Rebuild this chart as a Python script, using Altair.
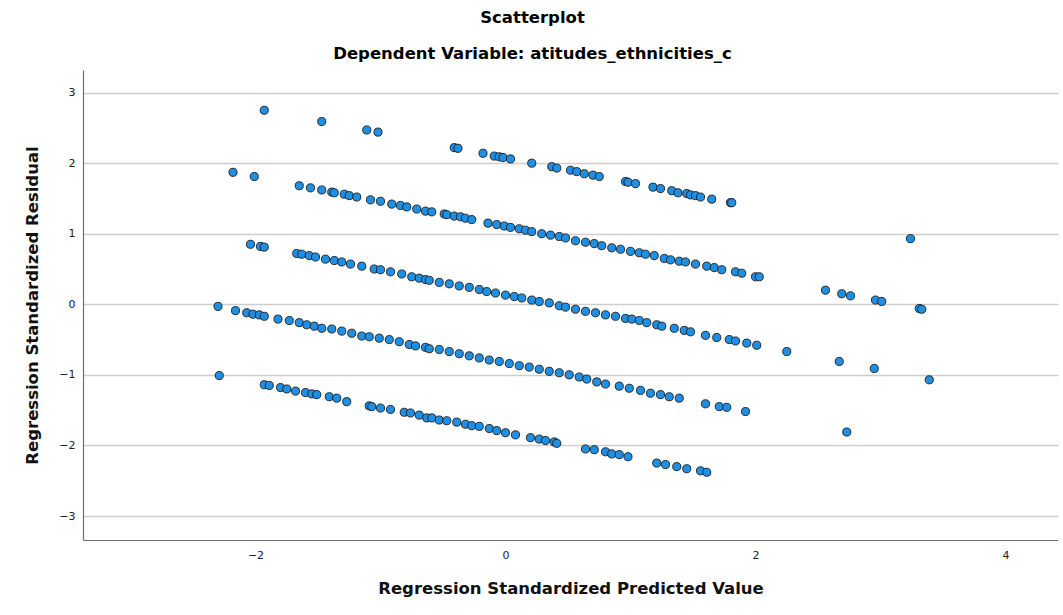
import altair as alt
import pandas as pd

# Values (predicted value, residual), grouped by the visible bands
band_a_x = [-1.93, -1.47, -1.11, -1.02, -0.41, -0.38, -0.18, -0.09, -0.05, -0.02, 0.04, 0.21, 0.37, 0.41,
            0.52, 0.57, 0.63, 0.70, 0.75, 0.96, 0.98, 1.04, 1.18, 1.24, 1.33, 1.38, 1.45, 1.48, 1.52, 1.56,
            1.65, 1.80, 1.81, 3.24]
band_a_y = [2.75, 2.59, 2.47, 2.44, 2.22, 2.21, 2.14, 2.10, 2.09, 2.08, 2.06, 2.00, 1.95, 1.93,
            1.90, 1.88, 1.85, 1.83, 1.81, 1.74, 1.73, 1.71, 1.66, 1.64, 1.61, 1.58, 1.57, 1.55, 1.54, 1.52,
            1.49, 1.44, 1.44, 0.93]

band_b_x = [-2.18, -2.01, -1.65, -1.56, -1.47, -1.39, -1.37, -1.29, -1.25, -1.19, -1.08, -1.00, -0.91, -0.84,
            -0.79, -0.71, -0.64, -0.59, -0.49, -0.47, -0.41, -0.36, -0.32, -0.27, -0.14, -0.07, -0.01, 0.04,
            0.11, 0.16, 0.21, 0.29, 0.36, 0.43, 0.48, 0.56, 0.64, 0.71, 0.77, 0.85, 0.92, 1.00, 1.07, 1.12,
            1.19, 1.27, 1.32, 1.39, 1.44, 1.52, 1.61, 1.67, 1.73, 1.84, 1.89, 2.00, 2.03,
            2.56, 2.69, 2.76, 2.96, 3.01, 3.31, 3.33]
band_b_y = [1.87, 1.81, 1.68, 1.65, 1.62, 1.59, 1.58, 1.56, 1.54, 1.52, 1.48, 1.46, 1.42, 1.40,
            1.38, 1.35, 1.32, 1.31, 1.28, 1.27, 1.25, 1.24, 1.22, 1.20, 1.15, 1.13, 1.11, 1.09,
            1.07, 1.05, 1.03, 1.00, 0.98, 0.96, 0.94, 0.90, 0.88, 0.86, 0.83, 0.80, 0.78, 0.75, 0.73, 0.71,
            0.69, 0.65, 0.63, 0.61, 0.60, 0.57, 0.54, 0.52, 0.49, 0.46, 0.44, 0.39, 0.39,
            0.20, 0.15, 0.12, 0.06, 0.04, -0.06, -0.07]

band_c_x = [-2.04, -1.96, -1.93, -1.67, -1.63, -1.57, -1.52, -1.44, -1.37, -1.31, -1.24, -1.15, -1.05, -1.00,
            -0.92, -0.83, -0.75, -0.69, -0.64, -0.61, -0.53, -0.45, -0.37, -0.29, -0.21, -0.15, -0.08, 0.00,
            0.07, 0.13, 0.21, 0.27, 0.35, 0.43, 0.48, 0.56, 0.64, 0.72, 0.80, 0.88, 0.96, 1.01, 1.07, 1.13,
            1.21, 1.25, 1.35, 1.43, 1.48, 1.60, 1.69, 1.79, 1.84, 1.93, 2.01,
            2.25, 2.67, 2.95, 3.39]
band_c_y = [0.85, 0.82, 0.81, 0.72, 0.71, 0.69, 0.67, 0.64, 0.62, 0.60, 0.57, 0.54, 0.50, 0.49,
            0.46, 0.43, 0.39, 0.37, 0.35, 0.34, 0.31, 0.29, 0.26, 0.24, 0.21, 0.18, 0.16, 0.13,
            0.11, 0.09, 0.06, 0.04, 0.02, -0.02, -0.04, -0.07, -0.10, -0.12, -0.15, -0.17, -0.20, -0.21, -0.23, -0.26,
            -0.29, -0.31, -0.34, -0.37, -0.39, -0.44, -0.47, -0.50, -0.52, -0.55, -0.58,
            -0.67, -0.81, -0.91, -1.07]

band_d_x = [-2.30, -2.16, -2.07, -2.02, -1.97, -1.93, -1.82, -1.73, -1.65, -1.59, -1.53, -1.47, -1.39, -1.31,
            -1.23, -1.15, -1.09, -1.01, -0.93, -0.85, -0.77, -0.72, -0.64, -0.61, -0.53, -0.45, -0.37, -0.29,
            -0.21, -0.13, -0.05, 0.03, 0.11, 0.19, 0.27, 0.35, 0.43, 0.51, 0.59, 0.65, 0.73, 0.80, 0.91, 0.99,
            1.08, 1.16, 1.24, 1.31, 1.39, 1.60, 1.71, 1.77, 1.92, 2.73]
band_d_y = [-0.03, -0.09, -0.12, -0.14, -0.15, -0.17, -0.21, -0.23, -0.26, -0.29, -0.31, -0.34, -0.35, -0.38,
            -0.41, -0.45, -0.46, -0.48, -0.50, -0.53, -0.57, -0.59, -0.61, -0.63, -0.64, -0.67, -0.70, -0.73,
            -0.76, -0.79, -0.81, -0.84, -0.87, -0.89, -0.92, -0.95, -0.97, -1.00, -1.03, -1.06, -1.10, -1.13, -1.16, -1.19,
            -1.22, -1.26, -1.28, -1.31, -1.33, -1.41, -1.45, -1.46, -1.52, -1.81]

band_e_x = [-2.29, -1.93, -1.89, -1.80, -1.75, -1.68, -1.60, -1.55, -1.51, -1.41, -1.35, -1.27, -1.09, -1.07,
            -1.00, -0.92, -0.81, -0.76, -0.69, -0.63, -0.59, -0.53, -0.47, -0.39, -0.32, -0.27, -0.21, -0.13,
            -0.07, 0.00, 0.08, 0.20, 0.27, 0.32, 0.39, 0.41, 0.64, 0.71, 0.80, 0.85, 0.91, 0.98,
            1.21, 1.28, 1.37, 1.45, 1.56, 1.61]
band_e_y = [-1.01, -1.14, -1.15, -1.18, -1.20, -1.23, -1.25, -1.27, -1.28, -1.31, -1.33, -1.38, -1.44, -1.45,
            -1.47, -1.49, -1.53, -1.54, -1.57, -1.61, -1.61, -1.64, -1.65, -1.67, -1.70, -1.72, -1.73, -1.76,
            -1.79, -1.82, -1.85, -1.89, -1.91, -1.93, -1.95, -1.97, -2.05, -2.06, -2.09, -2.12, -2.13, -2.16,
            -2.25, -2.27, -2.30, -2.33, -2.36, -2.38]

x_ticks = [-2, 0, 2, 4]
y_ticks = [-3, -2, -1, 0, 1, 2, 3]

df = pd.DataFrame({
    "pred": band_a_x + band_b_x + band_c_x + band_d_x + band_e_x,
    "resid": band_a_y + band_b_y + band_c_y + band_d_y + band_e_y,
})

FONT = "DejaVu Sans"

chart = alt.Chart(df).mark_circle(
    size=66, fill="#1F8FE3", stroke="#1b1b1b", strokeWidth=0.9, opacity=1, fillOpacity=1
).encode(
    x=alt.X("pred:Q", title="Regression Standardized Predicted Value",
            scale=alt.Scale(domain=[-3.38, 4.42], nice=False, zero=False),
            axis=alt.Axis(values=x_ticks, grid=False, ticks=False, labelPadding=9,
                          titlePadding=20, domainColor="#6e6e6e", domainWidth=1.2)),
    y=alt.Y("resid:Q", title="Regression Standardized Residual",
            scale=alt.Scale(domain=[-3.34, 3.32], nice=False, zero=False),
            axis=alt.Axis(values=y_ticks, grid=True, ticks=False, labelPadding=8,
                          titlePadding=18, domainColor="#6e6e6e", domainWidth=1.2,
                          gridColor="#cdcdcd", gridWidth=1.5)),
).properties(
    width=975, height=470,
    autosize=alt.AutoSizeParams(type="none"),
    padding={"left": 83, "top": 70, "right": 5, "bottom": 75},
    title=alt.TitleParams(
        text="Scatterplot",
        subtitle="Dependent Variable: atitudes_ethnicities_c",
        anchor="middle", dx=-38, offset=8, fontSize=16.5, fontWeight="bold",
        subtitleFontSize=16.5, subtitleFontWeight="bold", subtitleColor="#000000",
        subtitlePadding=19, color="#000000", font=FONT, subtitleFont=FONT,
    ),
).configure_view(stroke=None).configure_axis(
    labelFont=FONT, labelFontSize=11, labelColor="#222222",
    titleFont=FONT, titleFontSize=16.5, titleFontWeight="bold", titleColor="#111111",
)

chart.save("out.html", embed_options={"renderer": "svg", "actions": False})
